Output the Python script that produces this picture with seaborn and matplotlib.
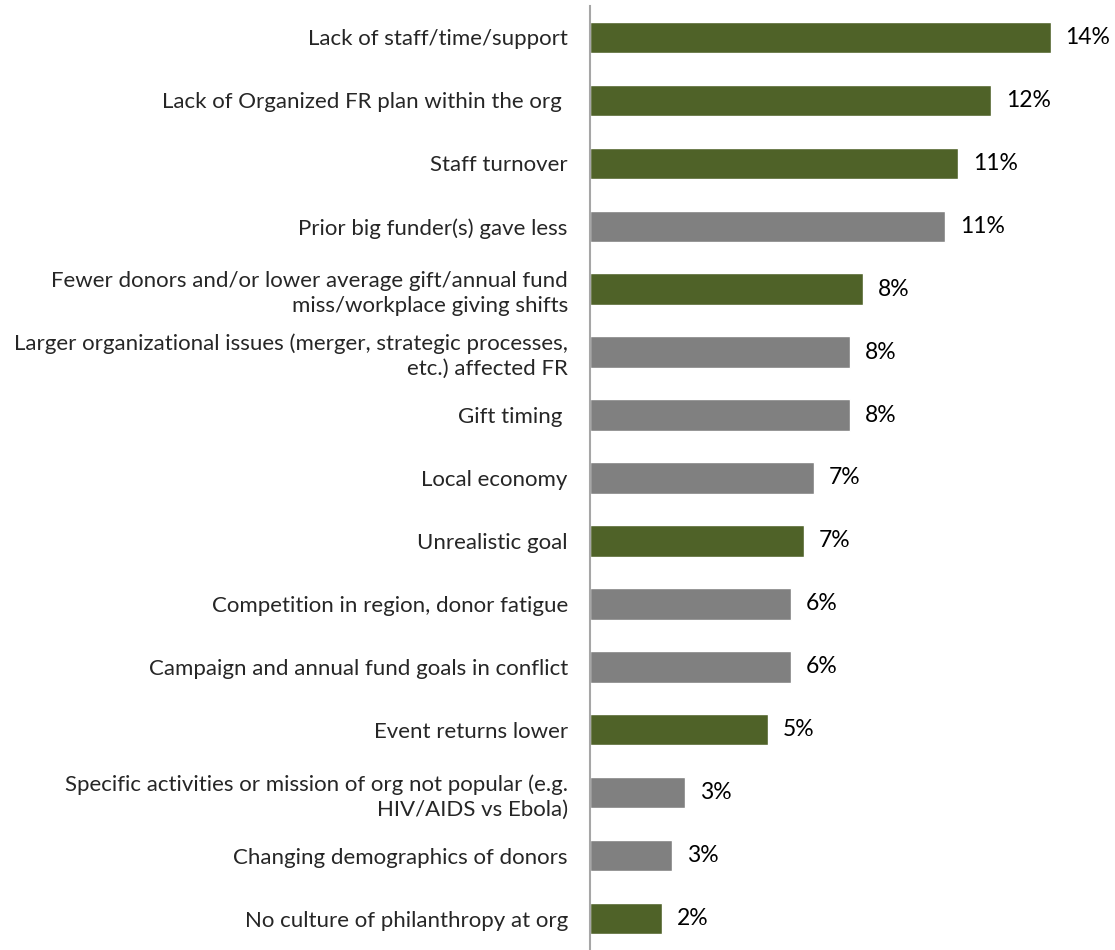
import pandas as pd
import seaborn as sns
import matplotlib.pyplot as plt

# ------------------------------
# Data
# ------------------------------
reasons = [
    "Lack of staff/time/support",
    "Lack of Organized FR plan within the org ",
    "Staff turnover",
    "Prior big funder(s) gave less",
    "Fewer donors and/or lower average gift/annual fund\nmiss/workplace giving shifts",
    "Larger organizational issues (merger, strategic processes,\netc.) affected FR",
    "Gift timing ",
    "Local economy",
    "Unrealistic goal",
    "Competition in region, donor fatigue",
    "Campaign and annual fund goals in conflict",
    "Event returns lower",
    "Specific activities or mission of org not popular (e.g.\nHIV/AIDS vs Ebola)",
    "Changing demographics of donors",
    "No culture of philanthropy at org",
]
pct = [14.0, 12.2, 11.2, 10.8, 8.3, 7.9, 7.9, 6.8, 6.5, 6.1, 6.1, 5.4, 2.9, 2.5, 2.2]
group = ["green", "green", "green", "gray", "green", "gray", "gray", "gray",
         "green", "gray", "gray", "green", "gray", "gray", "green"]

color_map = {"green": "#4F6228", "gray": "#808080"}

df = pd.DataFrame({"reason": reasons, "pct": pct, "group": group})

# ------------------------------
# Plot
# ------------------------------
sns.set_style("white")
plt.rcParams["font.family"] = ["Lato", "DejaVu Sans"]

fig = plt.figure(figsize=(11.15, 9.5), dpi=100)
ax = fig.add_axes([590 / 1115, 0.0, 1 - 590 / 1115, 944 / 950])

sns.barplot(data=df, x="pct", y="reason", hue="reason",
            palette=[color_map[g] for g in group], legend=False,
            width=0.5, ax=ax, saturation=1)

# data labels, rounded half-up like Excel
for i, v in enumerate(pct):
    ax.text(v + 0.45, i, f"{int(v + 0.5)}%", va="center", ha="left",
            fontsize=16.5, color="black")

ax.set_xlim(0, 15.96)
ax.set_ylim(14.5, -0.5)
ax.set_xlabel("")
ax.set_ylabel("")
ax.set_xticks([])
ax.tick_params(axis="y", length=0, pad=16, labelsize=16)
for lbl in ax.get_yticklabels():
    lbl.set_multialignment("right")
    lbl.set_linespacing(1.3)
for s in ["top", "right", "bottom"]:
    ax.spines[s].set_visible(False)
ax.spines["left"].set_color("#A6A6A6")
ax.spines["left"].set_linewidth(1.5)

fig.savefig("out.png", dpi=100)
